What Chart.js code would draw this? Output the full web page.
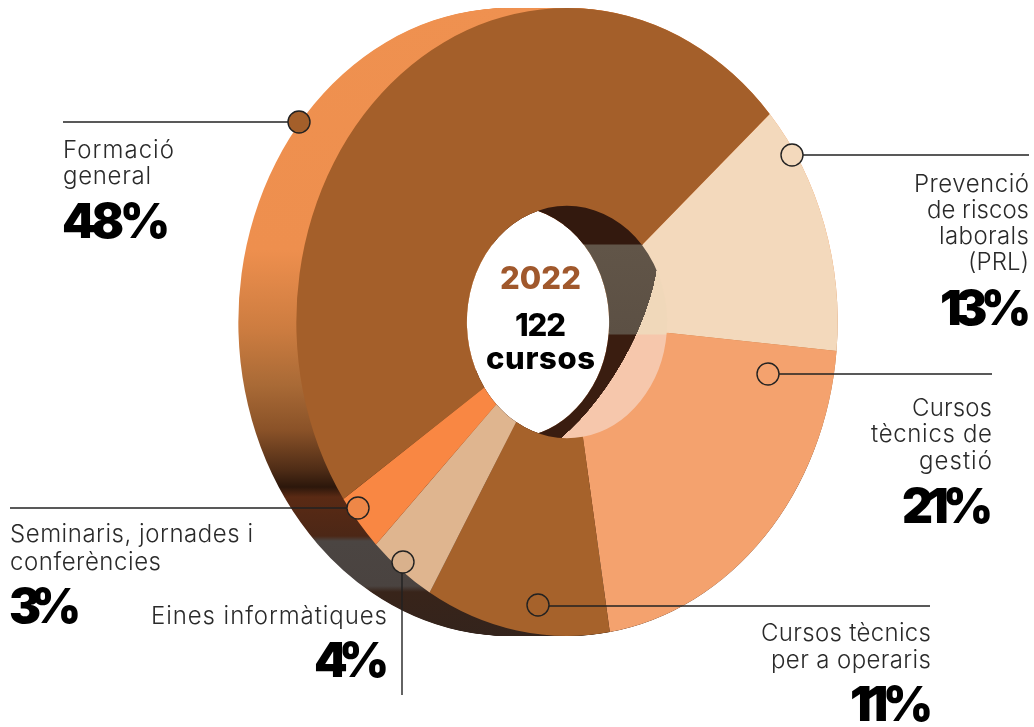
<!DOCTYPE html>
<html lang="ca">
<head>
<meta charset="utf-8">
<title>Formació 2022</title>
<script src="https://cdn.jsdelivr.net/npm/chart.js@4"></script>
<style>
html,body{margin:0;padding:0;background:#fff;width:1034px;height:727px;overflow:hidden}
#wrap{position:relative;width:1034px;height:727px}
#c{position:absolute;left:0;top:0}
svg{position:absolute;left:0;top:0}
.t{position:absolute;white-space:nowrap;line-height:1;font-family:Inter,"Open Sans",sans-serif;transform:translateY(-50%)}
.l{font-size:24px;font-weight:300;color:#2a2a2a}
.p{font-size:48px;font-weight:900;color:#000}
.c{font-size:31px;font-weight:800;color:#000}
</style>
</head>
<body>
<div id="wrap">
<canvas id="c" width="1034" height="727"></canvas>
<svg id="ov" width="1034" height="727"></svg>
</div>
<script>
const categories = ["Prevenció de riscos laborals (PRL)","Cursos tècnics de gestió","Cursos tècnics per a operaris","Eines informàtiques","Seminaris, jornades i conferències","Formació general"];
const values = [13,21,11,4,3,48];
const sliceColors = ["#f3d9bc","#f4a26e","#a6622b","#dfb58f","#f98743","#a45f2a"];
const aspect = 0.862, depth = 58, startAngle = 48.5;

function ygrad(ctx, stops){
  const g = ctx.createLinearGradient(0,0,0,727);
  stops.forEach(s => g.addColorStop(s[0]/727, s[1]));
  return g;
}
const sideStops = [[0,"#ef9150"],[250,"#ee8f4e"],[330,"#cc7c40"],[385,"#a96a36"],[430,"#8a5228"],[470,"#4e2c16"],[487,"#2c170b"],[497,"#5a2a14"],[536,"#4c2716"],[541,"#4b4542"],[586,"#4a4340"],[592,"#38241a"],[727,"#2b2320"]];
const lightStops = [[0,"#33190e"],[244,"#33190e"],[245,"#f0d8ba"],[334,"#f0d8ba"],[335,"#f6c7ac"],[727,"#f6c7ac"]];
const darkStops = [[0,"#33190e"],[244,"#33190e"],[245,"#615548"],[334,"#5c5044"],[335,"#3a1d10"],[727,"#3a1d10"]];

const body3d = {
  id:"body3d",
  beforeDatasetsDraw(chart){
    const ctx = chart.ctx, arcs = chart.getDatasetMeta(0).data;
    const cx = arcs[0].x, cy = arcs[0].y, ri = arcs[0].innerRadius;
    const place = d => { ctx.translate(cx+d,cy); ctx.scale(aspect,1); ctx.translate(-cx,-cy); };
    const stack = (stops, clip) => {
      const fill = ygrad(ctx, stops);
      ctx.save();
      if(clip) clip();
      for(let d=-depth; d<=0; d++){
        ctx.save(); place(d);
        arcs.forEach(a => {
          const v = Object.create(a);
          v.options = Object.assign({}, a.options, {backgroundColor:fill, borderWidth:0});
          Chart.ArcElement.prototype.draw.call(v, ctx);
        });
        ctx.restore();
      }
      ctx.restore();
    };
    const frontHole = () => { ctx.beginPath(); ctx.ellipse(cx,cy,ri*aspect+1,ri+1,0,0,Math.PI*2); ctx.clip(); };
    const wallBand = () => { frontHole(); ctx.beginPath(); ctx.ellipse(cx-3,cy+8,66,150,30*Math.PI/180,0,Math.PI*2); ctx.clip(); };
    stack(sideStops);
    stack(lightStops, frontHole);
    stack(darkStops, wallBand);
    ctx.save(); place(0);
  },
  afterDatasetsDraw(chart){ chart.ctx.restore(); }
};

new Chart(document.getElementById("c"),{
  type:"doughnut",
  data:{labels:categories,datasets:[{data:values,backgroundColor:sliceColors,borderWidth:0}]},
  options:{
    responsive:false,animation:false,cutout:"37%",rotation:startAngle,
    layout:{padding:{left:100,right:0,top:8,bottom:91}},
    plugins:{legend:{display:false},tooltip:{enabled:false}}
  },
  plugins:[body3d]
});

const wrap = document.getElementById("wrap");
function put(txt,cls,x0,x1,y,color){
  const e = document.createElement("div");
  e.className = "t "+cls; e.textContent = txt; e.style.left = x0+"px"; e.style.top = y+"px";
  if(color) e.style.color = color;
  wrap.appendChild(e);
  const w = e.getBoundingClientRect().width;
  e.style.letterSpacing = ((x1-x0-w)/Math.max(1,txt.length-1))+"px";
}
const textRows = [
 ["Formació","l",63,174,150],["general","l",63,151,176],["48%","p",62,170,221],
 ["Prevenció","l",914,1029,184],["de riscos","l",927,1029,210],["laborals","l",939,1029,236],["(PRL)","l",968,1029,262],["13%","p",940,1031,308],
 ["Cursos","l",912,992,408],["tècnics de","l",871,992,434],["gestió","l",919,992,461],["21%","p",902,993,506],
 ["Cursos tècnics","l",761,931,633],["per a operaris","l",771,931,660],["11%","p",850,933,704],
 ["Seminaris, jornades i","l",10,253,534],["conferències","l",10,161,562],["3%","p",9,81,606],
 ["Eines informàtiques","l",151,387,616],["4%","p",314,389,660],
 ["2022","c",500,581,277,"#a0582c"],["122","c",515,566,324],["cursos","c",486,595,357]
];
textRows.forEach(r => put(...r));

const NS = "http://www.w3.org/2000/svg", ov = document.getElementById("ov");
function add(tag,attrs){ const e=document.createElementNS(NS,tag); for(const k in attrs) e.setAttribute(k,attrs[k]); ov.appendChild(e); }
const leaders = [[63,122,288,122],[803,155,1029,155],[779,374,992,374],[549,606,930,606],[10,508,347,508],[402,573,402,695]];
const dots = [[299,122,"#a45f2a"],[792,155,"#f3d9bc"],[768,374,"#f4a26e"],[538,605,"#a6622b"],[358,508,"#ee8747"],[403,562,"#d9b18c"]];
leaders.forEach(l => add("line",{x1:l[0],y1:l[1],x2:l[2],y2:l[3],stroke:"#222",'stroke-width':1.4}));
dots.forEach(d => add("circle",{cx:d[0],cy:d[1],r:11,fill:d[2],stroke:"#222",'stroke-width':1.4}));
</script>
</body>
</html>
